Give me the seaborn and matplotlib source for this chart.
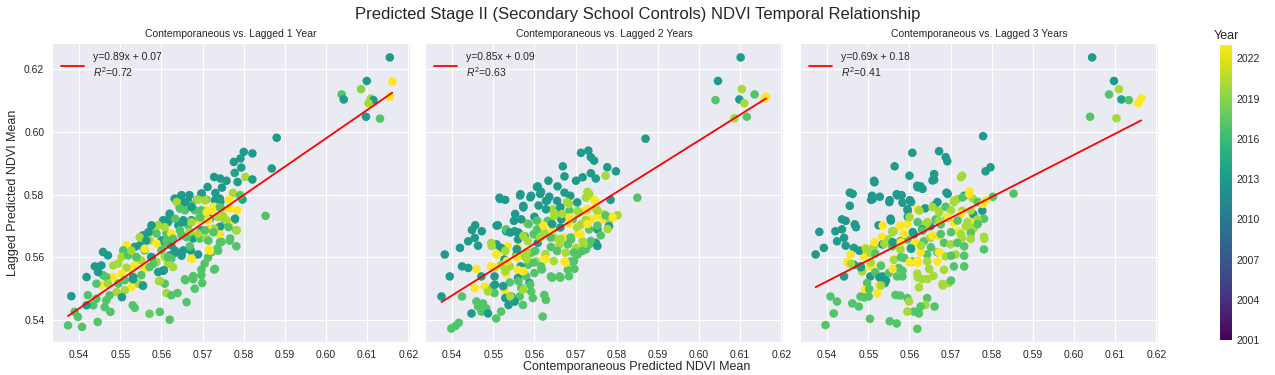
import numpy as np
import pandas as pd
import matplotlib
matplotlib.use("Agg")
import matplotlib.pyplot as plt
import seaborn as sns

T, T2, G, G2, L, Y = 2013, 2014, 2017, 2018, 2020, 2023

panel_titles = ["Contemporaneous vs. Lagged 1 Year",
                "Contemporaneous vs. Lagged 2 Years",
                "Contemporaneous vs. Lagged 3 Years"]
fit_labels = ["y=0.89x + 0.07\n$R^2$=0.72",
              "y=0.85x + 0.09\n$R^2$=0.63",
              "y=0.69x + 0.18\n$R^2$=0.41"]
cbar_ticks = [2001, 2004, 2007, 2010, 2013, 2016, 2019, 2022]

# (contemporaneous, lagged, year)
lag1_points = [
    (0.5800,0.5936,T),(0.5821,0.5931,T),(0.5776,0.5904,T),(0.5792,0.5915,T),(0.5794,0.5886,T),
    (0.5778,0.5869,T2),(0.5804,0.5856,L),(0.5821,0.5848,T),(0.5785,0.5840,T),(0.5728,0.5856,T),
    (0.5743,0.5851,T),(0.5758,0.5844,T),(0.5712,0.5824,T),(0.5747,0.5822,T),(0.5731,0.5805,T),
    (0.5774,0.5805,L),(0.5797,0.5784,T2),(0.5791,0.5798,G),(0.5764,0.5784,Y),(0.5784,0.5750,Y),
    (0.5778,0.5720,G),(0.5766,0.5710,Y),(0.5782,0.5686,G),(0.5767,0.5660,G),(0.5782,0.5635,G),
    (0.5632,0.5787,T),(0.5647,0.5795,T),(0.5668,0.5798,T),(0.5665,0.5777,T),(0.5697,0.5803,T),
    (0.5687,0.5784,G),(0.5709,0.5784,G),(0.5730,0.5782,T),(0.5743,0.5777,T),(0.5730,0.5761,L),
    (0.5709,0.5750,Y),(0.5722,0.5750,Y),(0.5746,0.5755,L),(0.5644,0.5761,G),(0.5657,0.5750,G),
    (0.5673,0.5766,G),(0.5681,0.5750,G),(0.5697,0.5750,G),(0.5691,0.5718,Y),(0.5704,0.5723,L),
    (0.5718,0.5723,T),(0.5736,0.5729,L),(0.5750,0.5731,L),(0.5754,0.5707,G),(0.5742,0.5697,T),
    (0.5728,0.5691,L),(0.5713,0.5691,Y),(0.5742,0.5673,Y),(0.5746,0.5649,G),(0.5736,0.5628,G),
    (0.5722,0.5617,G),(0.5713,0.5599,G),(0.5705,0.5580,G),(0.5697,0.5561,G),(0.5728,0.5561,G),
    (0.5697,0.5543,G),(0.5699,0.5518,G),(0.5677,0.5540,G),(0.5658,0.5527,G),(0.5681,0.5500,G),
    (0.5661,0.5457,G),(0.5715,0.5624,Y),(0.5689,0.5609,T),(0.5673,0.5596,L),(0.5671,0.5622,T),
    (0.5653,0.5622,T),(0.5632,0.5614,T),(0.5620,0.5606,T),(0.5608,0.5644,G),(0.5624,0.5638,T),
    (0.5600,0.5654,T),(0.5612,0.5676,G),(0.5624,0.5676,Y),(0.5649,0.5670,G),(0.5669,0.5681,L),
    (0.5669,0.5635,G),(0.5677,0.5660,T),(0.5693,0.5660,G),(0.5697,0.5686,T),(0.5709,0.5660,L),
    (0.5641,0.5702,T),(0.5653,0.5718,T),(0.5665,0.5702,G),(0.5673,0.5718,T),(0.5620,0.5729,T),
    (0.5604,0.5718,T),(0.5592,0.5702,L),(0.5575,0.5697,L),(0.5588,0.5676,G),(0.5571,0.5681,G),
    (0.5555,0.5670,T),(0.5571,0.5654,L),(0.5588,0.5644,Y),(0.5600,0.5622,G),(0.5608,0.5601,L),
    (0.5624,0.5596,G),(0.5628,0.5569,L),(0.5616,0.5580,L),(0.5606,0.5559,T),(0.5588,0.5585,L),
    (0.5592,0.5553,T),(0.5575,0.5601,T),(0.5559,0.5622,G),(0.5547,0.5638,T),(0.5535,0.5633,T),
    (0.5525,0.5622,G),(0.5515,0.5638,Y),(0.5507,0.5622,G),(0.5503,0.5601,L),(0.5519,0.5606,G),
    (0.5539,0.5601,G),(0.5551,0.5590,L),(0.5535,0.5574,Y),(0.5559,0.5564,Y),(0.5571,0.5569,G),
    (0.5551,0.5543,G),(0.5527,0.5561,Y),(0.5515,0.5567,L),(0.5495,0.5580,L),(0.5483,0.5574,L),
    (0.5503,0.5548,Y),(0.5511,0.5527,G),(0.5531,0.5537,T),(0.5543,0.5516,L),(0.5555,0.5511,G),
    (0.5527,0.5505,Y),(0.5511,0.5495,L),(0.5495,0.5516,G),(0.5483,0.5537,Y),(0.5466,0.5537,G),
    (0.5454,0.5511,Y),(0.5470,0.5516,L),(0.5491,0.5489,L),(0.5504,0.5473,T),(0.5474,0.5479,G),
    (0.5458,0.5543,G),(0.5446,0.5553,T),(0.5438,0.5571,T),(0.5454,0.5574,T),(0.5458,0.5617,T),
    (0.5470,0.5606,T),(0.5418,0.5537,T),(0.5442,0.5516,G),(0.5421,0.5479,G),(0.5442,0.5468,G),
    (0.5434,0.5447,G),(0.5418,0.5447,T),(0.5381,0.5476,T),(0.5389,0.5426,G),(0.5397,0.5410,G),
    (0.5373,0.5383,G),(0.5407,0.5378,G),(0.5445,0.5394,G),(0.5466,0.5463,G),(0.5462,0.5441,G),
    (0.5476,0.5426,G),(0.5530,0.5447,G),(0.5535,0.5439,G),(0.5571,0.5420,G2),(0.5596,0.5426,G),
    (0.5620,0.5401,G),(0.5612,0.5486,L),(0.5624,0.5479,G),(0.5639,0.5486,G),(0.5594,0.5524,L),
    (0.5608,0.5516,G),
    (0.6155,0.6237,T),(0.6161,0.6160,Y),(0.6155,0.6112,Y),(0.6099,0.6162,T),(0.6085,0.6136,2019),
    (0.6038,0.6119,G),(0.6043,0.6103,T),(0.6109,0.6106,L),(0.6115,0.6101,T),(0.6103,0.6091,L),
    (0.6097,0.6048,T),(0.6131,0.6042,G),(0.5880,0.5981,T),(0.5868,0.5883,T),(0.5853,0.5732,G),
]
lag1_more = [
    (0.5649,0.5798,T),(0.5698,0.5803,T),(0.5637,0.5776,L),(0.5657,0.5776,T),(0.5689,0.5784,L),
    (0.5706,0.5782,L),(0.5742,0.5787,T),(0.5645,0.5755,G),(0.5673,0.5760,T),(0.5710,0.5744,Y),
    (0.5726,0.5760,Y),(0.5742,0.5760,G),(0.5766,0.5755,Y),(0.5620,0.5739,T),(0.5616,0.5712,T),
    (0.5633,0.5723,G),(0.5653,0.5712,T),(0.5673,0.5712,L),(0.5693,0.5728,G),(0.5714,0.5718,Y),
    (0.5746,0.5728,L),(0.5758,0.5718,L),(0.5779,0.5723,T),(0.5576,0.5702,T),(0.5608,0.5696,L),
    (0.5645,0.5686,G),(0.5669,0.5680,L),(0.5689,0.5675,L),(0.5706,0.5686,G),(0.5726,0.5680,G),
    (0.5763,0.5696,G),(0.5783,0.5686,L),(0.5568,0.5680,T),(0.5547,0.5664,L),(0.5563,0.5653,T),
    (0.5612,0.5653,G),(0.5628,0.5659,G),(0.5661,0.5664,G),(0.5714,0.5653,G),(0.5742,0.5648,G),
    (0.5766,0.5653,G),(0.5527,0.5621,L),(0.5539,0.5600,G),(0.5559,0.5627,Y),(0.5576,0.5600,T),
    (0.5616,0.5600,G),(0.5633,0.5621,T),(0.5649,0.5605,T),(0.5673,0.5595,Y),(0.5718,0.5621,Y),
    (0.5738,0.5621,G),(0.5730,0.5563,G),(0.5604,0.5557,T),(0.5580,0.5579,G),(0.5531,0.5530,T),
    (0.5596,0.5525,L),(0.5657,0.5530,G),(0.5677,0.5530,G),(0.5555,0.5509,T),
]

lag2_points = [
    (0.5713,0.5933,T),(0.5731,0.5940,T),(0.5737,0.5919,T),(0.5745,0.5908,T),(0.5669,0.5890,T),
    (0.5777,0.5887,T),(0.5798,0.5874,T),(0.5673,0.5858,T),(0.5737,0.5868,T),(0.5749,0.5851,T),
    (0.5773,0.5860,L),(0.5717,0.5855,T),(0.5701,0.5844,T),(0.5634,0.5844,T),(0.5608,0.5826,T),
    (0.5656,0.5826,T),(0.5616,0.5809,T),(0.5636,0.5793,T),(0.5628,0.5780,T),(0.5673,0.5806,T),
    (0.5687,0.5796,T),(0.5729,0.5809,L),(0.5725,0.5790,L),(0.5745,0.5783,Y),(0.5785,0.5783,T),
    (0.5515,0.5790,T),(0.5529,0.5783,T),(0.5566,0.5801,T),(0.5592,0.5796,T),(0.5573,0.5764,T),
    (0.5655,0.5780,T),(0.5679,0.5776,L),(0.5645,0.5753,L),(0.5628,0.5753,T),(0.5660,0.5750,T),
    (0.5685,0.5748,G),(0.5705,0.5748,L),(0.5725,0.5748,Y),(0.5750,0.5753,L),(0.5770,0.5737,L),
    (0.5786,0.5729,Y),(0.5802,0.5734,L),(0.5781,0.5716,L),(0.5765,0.5723,Y),(0.5753,0.5732,Y),
    (0.5737,0.5721,Y),(0.5725,0.5719,L),(0.5713,0.5705,L),(0.5693,0.5721,G),(0.5681,0.5726,Y),
    (0.5665,0.5721,T),(0.5648,0.5732,L),(0.5632,0.5716,G),(0.5616,0.5705,Y),(0.5600,0.5729,T),
    (0.5606,0.5689,G),(0.5582,0.5708,L),(0.5568,0.5721,T),(0.5550,0.5716,T),(0.5531,0.5683,T),
    (0.5552,0.5683,T),(0.5576,0.5667,T),(0.5600,0.5673,G),(0.5624,0.5678,L),(0.5644,0.5689,Y),
    (0.5648,0.5662,L),(0.5671,0.5662,Y),(0.5689,0.5657,G),(0.5705,0.5676,Y),(0.5717,0.5651,L),
    (0.5733,0.5689,G),(0.5753,0.5689,T),(0.5761,0.5670,G),(0.5781,0.5699,T),(0.5749,0.5646,T),
    (0.5733,0.5641,G),(0.5701,0.5630,L),(0.5681,0.5641,G),(0.5661,0.5641,L),(0.5640,0.5633,G),
    (0.5624,0.5598,Y),(0.5608,0.5646,T),(0.5584,0.5651,L),(0.5560,0.5630,Y),(0.5560,0.5657,T),
    (0.5535,0.5635,Y),(0.5519,0.5630,T),(0.5508,0.5641,T),(0.5495,0.5646,L),(0.5508,0.5609,Y),
    (0.5527,0.5593,T),(0.5556,0.5609,G),(0.5576,0.5603,L),(0.5592,0.5614,G),(0.5604,0.5587,L),
    (0.5584,0.5576,G),(0.5566,0.5571,T),(0.5540,0.5571,L),(0.5519,0.5576,L),(0.5494,0.5571,Y),
    (0.5459,0.5563,Y),(0.5471,0.5539,T),(0.5503,0.5539,T),(0.5531,0.5548,Y),(0.5560,0.5560,Y),
    (0.5560,0.5534,T),(0.5580,0.5539,G),(0.5600,0.5550,G),(0.5616,0.5571,G),(0.5640,0.5539,G),
    (0.5661,0.5539,G),(0.5681,0.5560,G),(0.5697,0.5563,G),(0.5673,0.5587,Y),(0.5689,0.5587,G),
    (0.5705,0.5609,G),(0.5725,0.5625,G),(0.5455,0.5502,Y),(0.5479,0.5507,Y),(0.5499,0.5507,G),
    (0.5527,0.5496,Y),(0.5540,0.5520,G),(0.5568,0.5502,G),(0.5588,0.5518,T),(0.5592,0.5491,G),
    (0.5564,0.5475,G),(0.5544,0.5475,T),(0.5529,0.5470,T),(0.5503,0.5486,G),(0.5487,0.5491,L),
    (0.5552,0.5459,T),(0.5537,0.5448,T),(0.5572,0.5448,G),(0.5596,0.5470,G),(0.5624,0.5480,G),
    (0.5628,0.5464,G),(0.5459,0.5459,G),(0.5475,0.5453,G),(0.5483,0.5437,G),(0.5463,0.5443,G),
    (0.5471,0.5427,G),(0.5487,0.5421,T),(0.5447,0.5421,T),(0.5424,0.5475,G),(0.5439,0.5566,T),
    (0.5424,0.5571,T),(0.5394,0.5539,T),(0.5374,0.5475,T),(0.5382,0.5609,T),(0.5419,0.5630,T),
    (0.5439,0.5651,T),(0.5463,0.5637,T),(0.5455,0.5662,T),(0.5448,0.5687,T),(0.5456,0.5702,T),
    (0.5472,0.5683,T),(0.5511,0.5702,T),(0.5531,0.5689,G),(0.5507,0.5405,G),(0.5519,0.5427,G),
    (0.5620,0.5411,G),(0.5398,0.5373,G),(0.5408,0.5381,G),(0.5416,0.5391,G),(0.5850,0.5790,G),
    (0.6101,0.6237,T),(0.6046,0.6162,T),(0.6040,0.6101,G),(0.6104,0.6136,L),(0.6098,0.6103,T),
    (0.6110,0.6091,L),(0.6135,0.6119,G),(0.6163,0.6112,Y),(0.6159,0.6106,Y),(0.6086,0.6043,L),
    (0.6116,0.6048,G),(0.5870,0.5978,T),
]
lag2_more = [
    (0.5516,0.5786,T),(0.5565,0.5797,T),(0.5590,0.5791,T),(0.5614,0.5802,T),(0.5606,0.5824,T),
    (0.5573,0.5759,T),(0.5610,0.5765,T),(0.5631,0.5781,T),(0.5663,0.5759,T),(0.5684,0.5770,L),
    (0.5704,0.5775,T),(0.5733,0.5802,L),(0.5749,0.5775,Y),(0.5647,0.5743,L),(0.5667,0.5738,L),
    (0.5688,0.5727,Y),(0.5708,0.5743,L),(0.5729,0.5754,Y),(0.5753,0.5749,L),(0.5773,0.5733,G),
    (0.5790,0.5727,Y),(0.5553,0.5738,T),(0.5586,0.5706,G),(0.5606,0.5717,G),(0.5622,0.5701,Y),
    (0.5643,0.5706,T),(0.5663,0.5695,T),(0.5684,0.5706,Y),(0.5704,0.5695,L),(0.5729,0.5706,Y),
    (0.5753,0.5701,G),(0.5778,0.5690,L),(0.5508,0.5701,T),(0.5541,0.5679,T),(0.5561,0.5679,T),
    (0.5573,0.5668,L),(0.5598,0.5674,G),(0.5614,0.5663,L),(0.5639,0.5663,G),(0.5663,0.5658,L),
    (0.5688,0.5663,G),(0.5712,0.5674,Y),(0.5737,0.5652,G),(0.5753,0.5636,T),(0.5720,0.5642,L),
    (0.5496,0.5636,L),(0.5508,0.5610,Y),(0.5529,0.5620,L),(0.5557,0.5626,T),(0.5581,0.5615,L),
    (0.5602,0.5620,G),(0.5627,0.5610,L),(0.5655,0.5620,G),(0.5676,0.5615,L),(0.5696,0.5615,G),
    (0.5716,0.5620,G),(0.5533,0.5588,Y),(0.5557,0.5599,Y),(0.5582,0.5594,L),(0.5598,0.5583,G),
    (0.5627,0.5594,Y),(0.5647,0.5588,L),(0.5676,0.5583,Y),(0.5696,0.5588,G),(0.5504,0.5567,Y),
    (0.5529,0.5556,L),(0.5573,0.5556,Y),(0.5618,0.5561,G),(0.5643,0.5535,G),(0.5663,0.5535,G),
    (0.5684,0.5540,G),(0.5561,0.5524,G),(0.5590,0.5513,G),(0.5524,0.5508,T),(0.5504,0.5513,T),
    (0.5573,0.5497,L),(0.5541,0.5476,L),
]

lag3_points = [
    (0.5779,0.5986,T),(0.5672,0.5938,T),(0.5688,0.5919,T),(0.5692,0.5906,T),(0.5607,0.5933,T),
    (0.5564,0.5890,T),(0.5797,0.5887,T),(0.5785,0.5874,T),(0.5514,0.5844,T),(0.5600,0.5860,T),
    (0.5660,0.5865,T),(0.5660,0.5847,T),(0.5728,0.5860,L),(0.5619,0.5828,T),(0.5627,0.5826,T),
    (0.5690,0.5806,T),(0.5455,0.5806,T),(0.5509,0.5796,T),(0.5528,0.5793,T),(0.5507,0.5783,T),
    (0.5569,0.5801,T),(0.5581,0.5798,T),(0.5552,0.5782,T),(0.5583,0.5774,T),(0.5601,0.5782,T),
    (0.5455,0.5764,T),(0.5595,0.5753,T),(0.5596,0.5729,T),(0.5638,0.5756,T),(0.5619,0.5753,Y),
    (0.5660,0.5766,G),(0.5672,0.5748,L),(0.5688,0.5761,G),(0.5716,0.5785,L),(0.5733,0.5796,T),
    (0.5746,0.5810,Y),(0.5754,0.5787,L),(0.5708,0.5776,L),(0.5787,0.5782,Y),(0.5803,0.5793,G),
    (0.5853,0.5803,G),(0.5728,0.5748,L),(0.5755,0.5737,T),(0.5777,0.5748,T),(0.5781,0.5723,G),
    (0.5765,0.5721,L),(0.5749,0.5710,Y),(0.5737,0.5699,L),(0.5757,0.5694,L),(0.5749,0.5678,G),
    (0.5720,0.5683,Y),(0.5728,0.5662,L),(0.5781,0.5665,L),(0.5781,0.5625,G),(0.5708,0.5710,Y),
    (0.5692,0.5726,G),(0.5676,0.5705,G),(0.5664,0.5721,G),(0.5651,0.5699,T),(0.5639,0.5705,L),
    (0.5631,0.5689,T),(0.5611,0.5673,T),(0.5595,0.5705,Y),(0.5577,0.5699,Y),(0.5558,0.5683,L),
    (0.5534,0.5665,Y),(0.5550,0.5657,L),(0.5578,0.5651,T),(0.5595,0.5657,G),(0.5615,0.5646,Y),
    (0.5635,0.5651,G),(0.5651,0.5662,L),(0.5672,0.5667,Y),(0.5684,0.5646,G),(0.5700,0.5641,L),
    (0.5716,0.5646,G),(0.5733,0.5635,G),(0.5712,0.5609,L),(0.5688,0.5603,L),(0.5668,0.5616,G),
    (0.5643,0.5609,G),(0.5627,0.5616,Y),(0.5603,0.5630,G),(0.5578,0.5625,L),(0.5558,0.5635,G),
    (0.5534,0.5641,T),(0.5514,0.5635,L),(0.5493,0.5630,Y),(0.5481,0.5625,Y),(0.5465,0.5630,T),
    (0.5457,0.5609,Y),(0.5489,0.5603,Y),(0.5505,0.5614,L),(0.5517,0.5612,G),(0.5449,0.5584,Y),
    (0.5465,0.5576,T),(0.5481,0.5571,T),(0.5505,0.5571,Y),(0.5530,0.5576,Y),(0.5562,0.5592,L),
    (0.5587,0.5598,G),(0.5607,0.5587,G),(0.5619,0.5582,Y),(0.5643,0.5587,L),(0.5668,0.5587,Y),
    (0.5684,0.5560,L),(0.5708,0.5571,G),(0.5733,0.5571,G),(0.5485,0.5555,L),(0.5505,0.5539,T),
    (0.5517,0.5552,G),(0.5534,0.5539,T),(0.5550,0.5550,G),(0.5574,0.5566,G),(0.5583,0.5539,G),
    (0.5441,0.5539,T),(0.5497,0.5518,G),(0.5526,0.5512,Y),(0.5540,0.5518,T),(0.5570,0.5539,G),
    (0.5619,0.5548,L),(0.5631,0.5530,L),(0.5658,0.5541,L),(0.5680,0.5515,L),(0.5696,0.5518,L),
    (0.5623,0.5504,L),(0.5492,0.5496,Y),(0.5522,0.5486,Y),(0.5501,0.5475,G),(0.5481,0.5475,G),
    (0.5461,0.5453,G),(0.5477,0.5443,G),(0.5566,0.5480,G),(0.5578,0.5478,G),(0.5595,0.5470,G),
    (0.5599,0.5459,L),(0.5643,0.5470,G),(0.5639,0.5448,L),(0.5627,0.5443,G),(0.5611,0.5427,G),
    (0.5623,0.5421,G),(0.5661,0.5443,G),(0.5595,0.5427,L),(0.5408,0.5475,G),(0.5424,0.5459,G),
    (0.5416,0.5421,G),(0.5396,0.5384,G),(0.5504,0.5404,G),(0.5552,0.5396,G),(0.5569,0.5389,G),
    (0.5619,0.5372,G),(0.5381,0.5681,T),(0.5420,0.5683,T),(0.5436,0.5689,T),(0.5441,0.5662,T),
    (0.5424,0.5651,T),(0.5445,0.5637,T),(0.5392,0.5630,T),(0.5372,0.5609,T),(0.5436,0.5721,T),
    (0.5445,0.5716,T),(0.5467,0.5705,T),(0.5525,0.5702,T),(0.5554,0.5723,T),(0.5561,0.5683,L),
    (0.6044,0.6237,T),(0.6097,0.6162,T),(0.6085,0.6119,G),(0.6109,0.6136,L),(0.6115,0.6103,T2),
    (0.6133,0.6101,G),(0.6163,0.6106,Y),(0.6156,0.6091,Y),(0.6103,0.6043,L),(0.6039,0.6048,G),
]
lag3_more = [
    (0.5515,0.5839,T),(0.5620,0.5823,T),(0.5632,0.5818,T),(0.5656,0.5845,T),(0.5725,0.5855,L),
    (0.5462,0.5802,T),(0.5511,0.5786,T),(0.5551,0.5776,T),(0.5571,0.5797,T),(0.5604,0.5776,T),
    (0.5668,0.5776,T),(0.5693,0.5802,T),(0.5709,0.5781,L),(0.5729,0.5791,G),(0.5745,0.5802,Y),
    (0.5766,0.5776,G),(0.5596,0.5749,T),(0.5624,0.5749,L),(0.5656,0.5760,L),(0.5672,0.5744,L),
    (0.5701,0.5749,L),(0.5725,0.5738,Y),(0.5749,0.5749,L),(0.5778,0.5770,Y),(0.5555,0.5717,T),
    (0.5600,0.5728,L),(0.5620,0.5712,G),(0.5644,0.5712,L),(0.5672,0.5717,L),(0.5693,0.5728,Y),
    (0.5717,0.5717,G),(0.5741,0.5712,L),(0.5766,0.5706,G),(0.5470,0.5696,T),(0.5535,0.5701,Y),
    (0.5559,0.5680,L),(0.5579,0.5701,Y),(0.5587,0.5674,Y),(0.5608,0.5680,T),(0.5632,0.5685,G),
    (0.5656,0.5669,Y),(0.5676,0.5674,G),(0.5701,0.5680,G),(0.5725,0.5674,L),(0.5749,0.5659,L),
    (0.5782,0.5659,L),(0.5515,0.5648,Y),(0.5539,0.5643,L),(0.5559,0.5648,T),(0.5579,0.5648,Y),
    (0.5604,0.5627,T),(0.5628,0.5637,L),(0.5652,0.5632,G),(0.5672,0.5616,Y),(0.5701,0.5605,G),
    (0.5733,0.5605,G),(0.5478,0.5621,T),(0.5494,0.5627,L),(0.5458,0.5579,L),(0.5482,0.5568,T),
    (0.5506,0.5584,L),(0.5531,0.5573,G),(0.5559,0.5563,Y),(0.5579,0.5600,G),(0.5600,0.5584,Y),
    (0.5620,0.5589,Y),(0.5648,0.5563,L),(0.5527,0.5536,T),(0.5543,0.5526,T),(0.5583,0.5557,G),
    (0.5620,0.5536,L),(0.5644,0.5531,L),(0.5502,0.5499,G),(0.5531,0.5510,L),(0.5701,0.5526,G),
    (0.5681,0.5510,L),(0.5490,0.5472,G),
]

sns.set_style("darkgrid")
plt.rcParams["font.family"] = ["Liberation Sans", "DejaVu Sans"]
plt.rcParams["mathtext.fontset"] = "custom"
plt.rcParams["mathtext.rm"] = "Liberation Sans"
plt.rcParams["mathtext.it"] = "Liberation Sans:italic"

fig = plt.figure(figsize=(12.75, 3.75), dpi=100)
W, H = 1275, 375
lefts = [52, 425, 800]
pw = 358
top, bottom = 43, 342
axes = []
for i, lx in enumerate(lefts):
    kw = {} if i == 0 else {"sharey": axes[0]}
    ax = fig.add_axes([lx / W, 1 - bottom / H, pw / W, (bottom - top) / H], **kw)
    axes.append(ax)

cmap = "viridis"
norm = matplotlib.colors.Normalize(vmin=2001, vmax=2023)

panels = [lag1_points + lag1_more, lag2_points + lag2_more, lag3_points + lag3_more]
for ax, pts, title, lab in zip(axes, panels, panel_titles, fit_labels):
    df = pd.DataFrame(pts, columns=["x", "y", "year"])
    sns.scatterplot(data=df, x="x", y="y", hue="year", palette=cmap, hue_norm=norm,
                    s=38, linewidth=0, legend=False, ax=ax)
    m, b = np.polyfit(df["x"], df["y"], 1)
    xs = np.array([df["x"].min(), df["x"].max()])
    ax.plot(xs, m * xs + b, color="red", lw=1.3, label=lab)
    ax.set_title(title, fontsize=7.5, pad=4)
    ax.set_xlabel("")
    ax.set_ylabel("")
    ax.set_xticks([0.54, 0.55, 0.56, 0.57, 0.58, 0.59, 0.60, 0.61, 0.62])
    ax.set_xticklabels(["0.54", "0.55", "0.56", "0.57", "0.58", "0.59", "0.60", "0.61", "0.62"])
    ax.tick_params(labelsize=7.5, pad=2)
    ax.set_xlim(0.5334, 0.6204)
    ax.legend(loc="upper left", fontsize=7.5, frameon=False, handlelength=2.2)

axes[0].set_yticks([0.54, 0.56, 0.58, 0.60, 0.62])
axes[0].set_yticklabels(["0.54", "0.56", "0.58", "0.60", "0.62"])
axes[0].set_ylim(0.5330, 0.6283)
axes[0].set_ylabel("Lagged Predicted NDVI Mean", fontsize=9)
for ax in axes[1:]:
    ax.tick_params(labelleft=False)

fig.text(637 / W, 1 - 367 / H, "Contemporaneous Predicted NDVI Mean", ha="center", va="center", fontsize=9)
fig.suptitle("Predicted Stage II (Secondary School Controls) NDVI Temporal Relationship",
             x=0.5, y=1 - 15 / H, va="center", fontsize=12)

cax = fig.add_axes([1220 / W, 1 - 340 / H, 12 / W, 295 / H])
sm = matplotlib.cm.ScalarMappable(norm=norm, cmap=cmap)
cb = fig.colorbar(sm, cax=cax)
cb.set_ticks(cbar_ticks)
cb.outline.set_visible(False)
cax.tick_params(labelsize=7.5, length=0, pad=3)
cax.set_title("Year", fontsize=9, pad=4)

fig.savefig("out.png", dpi=100)
